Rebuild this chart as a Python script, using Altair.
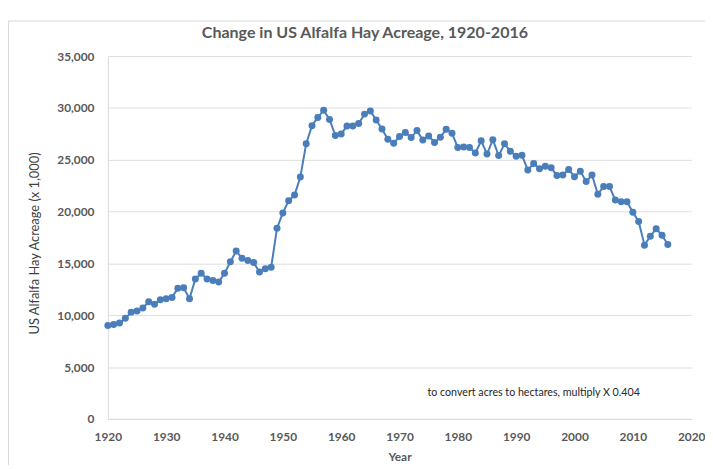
import altair as alt
import pandas as pd

years = list(range(1920, 2017))
acreage = [
    9000, 9100, 9250, 9700, 10300, 10400, 10700, 11300, 11050, 11500,
    11600, 11700, 12600, 12650, 11600, 13500, 14050, 13500, 13350, 13200,
    14050, 15150, 16200, 15500, 15270, 15080, 14160, 14480, 14640, 18400,
    19870, 21050, 21590, 23330, 26550, 28290, 29080, 29780, 28890, 27330,
    27490, 28250, 28250, 28500, 29400, 29710, 28830, 27970, 26980, 26600,
    27240, 27620, 27140, 27810, 26900, 27300, 26670, 27170, 27930, 27550,
    26190, 26220, 26190, 25650, 26830, 25550, 26920, 25400, 26540, 25810,
    25330, 25430, 24000, 24640, 24130, 24380, 24220, 23490, 23520, 24060,
    23360, 23900, 22890, 23520, 21680, 22410, 22410, 21110, 20950, 20950,
    19930, 19050, 16760, 17620, 18350, 17710, 16830,
]
x_ticks = list(range(1920, 2021, 10))
y_ticks = list(range(0, 35001, 5000))
note_text = ["to  convert acres to hectares, multiply X 0.404"]
note_year = [1974.8]
note_value = [2450]

df = pd.DataFrame({"Year": years, "Acreage": acreage})
note_df = pd.DataFrame({"Year": note_year, "Acreage": note_value, "text": note_text})

FONT = "Lato"
GRAY = "#595959"
BLUE = "#4a7ebb"

x_enc = alt.X(
    "Year:Q",
    scale=alt.Scale(domain=[1920, 2020], nice=False, zero=False),
    axis=alt.Axis(
        values=x_ticks, format="d", title="Year", grid=False, ticks=False,
        labelFlush=False, domainColor="#d9d9d9", labelFont=FONT,
        labelFontSize=12, labelFontWeight="bold", labelColor=GRAY,
        labelPadding=13, titleFont=FONT, titleFontSize=12,
        titleFontWeight="bold", titleColor=GRAY, titlePadding=9,
    ),
)
y_enc = alt.Y(
    "Acreage:Q",
    scale=alt.Scale(domain=[0, 35000], nice=False),
    axis=alt.Axis(
        values=y_ticks, format=",d", title="US Alfalfa Hay Acreage (x 1,000)",
        grid=True, gridColor="#dedede", ticks=False, domainColor="#d9d9d9",
        labelFont=FONT, labelFontSize=12, labelFontWeight="bold",
        labelColor=GRAY, labelPadding=14,
        titleFont=FONT, titleFontSize=13, titleFontWeight="normal",
        titleColor="#404040", titleX=-74, titleY=189, titleAngle=270,
        titleAlign="center", titleBaseline="middle",
    ),
)

line = alt.Chart(df).mark_line(color=BLUE, strokeWidth=2).encode(x=x_enc, y=y_enc)
points = alt.Chart(df).mark_circle(color=BLUE, size=50, opacity=1).encode(
    x="Year:Q", y="Acreage:Q"
)
note = alt.Chart(note_df).mark_text(
    align="left", baseline="middle", font=FONT, fontSize=10.8, color="#262626"
).encode(x="Year:Q", y="Acreage:Q", text="text:N")

frame = alt.Chart(pd.DataFrame({"k": [0]})).mark_rect(
    fillOpacity=0, stroke="#d9d9d9", strokeWidth=1
).encode(
    x=alt.value(-100.5), x2=alt.value(640), y=alt.value(-35.5), y2=alt.value(460)
)

chart = alt.layer(frame, line, points, note).properties(
    width=590,
    height=367,
    autosize=alt.AutoSizeParams(type="none"),
    padding={"left": 101, "top": 46, "right": 14, "bottom": 44},
    title=alt.TitleParams(
        "Change in US Alfalfa Hay Acreage, 1920-2016",
        font=FONT, fontSize=16.2, fontWeight="bold", color=GRAY,
        anchor="middle", frame="group", dx=-35, offset=-20.5,
    ),
).configure_view(strokeWidth=0)

chart.save("out.html", embed_options={"renderer": "svg", "actions": False})
